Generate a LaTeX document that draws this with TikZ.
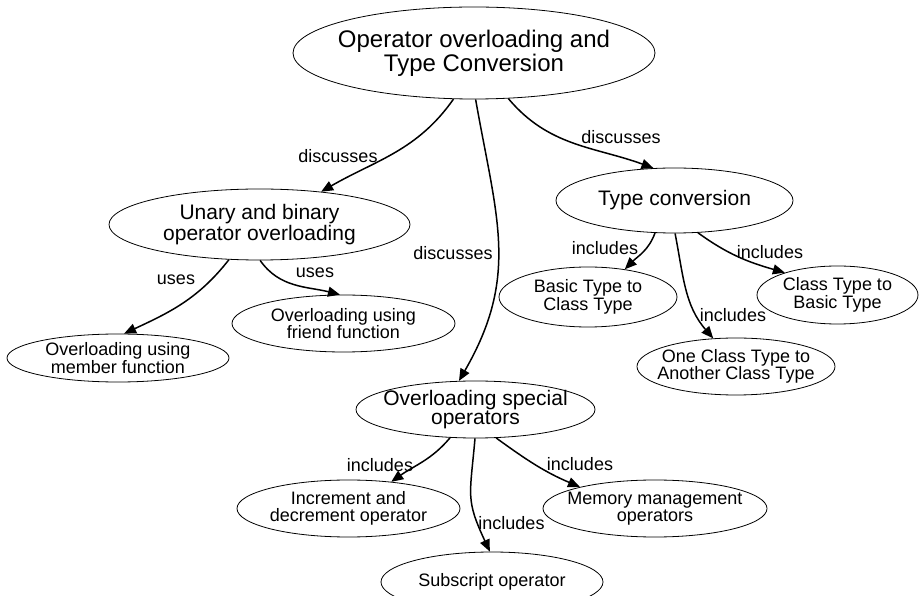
\documentclass[tikz,border=0pt]{standalone}
\usepackage{fontspec}
\setmainfont{Liberation Sans}
\usetikzlibrary{shapes.geometric,arrows.meta}
\begin{document}
\begin{tikzpicture}[x=1pt,y=1pt,
  concept/.style={ellipse, draw=black, line width=0.8pt, fill=white, inner sep=-150pt, align=center, text=black},
  big/.style={concept, font=\fontsize{24}{24}\selectfont},
  mid/.style={concept, font=\fontsize{21}{19.5}\selectfont},
  leaf/.style={concept, font=\fontsize{18}{17.5}\selectfont},
  lbl/.style={inner sep=0pt, font=\fontsize{18}{18}\selectfont, text=black},
  link/.style={-{Triangle[length=12pt,width=10pt]}, line width=1.5pt, draw=black},
]
\fill[white] (0,0) rectangle (919,595);
\useasboundingbox (0,0) rectangle (919,595);

% concepts
\node[big, minimum width=362pt, minimum height=92pt] (title) at (474,542) {Operator overloading and\\Type Conversion};
\node[mid, minimum width=301pt, minimum height=71pt] (unary) at (259.5,370.5) {Unary and binary\\operator overloading};
\node[mid, minimum width=237pt, minimum height=65pt] (tconv) at (674.5,394.5) {Type conversion};
\node[mid, minimum width=239pt, minimum height=57pt] (special) at (475.5,185.5) {Overloading special\\operators};
\node[leaf, minimum width=222pt, minimum height=48pt] (member) at (118,237) {Overloading using\\member function};
\node[leaf, minimum width=223pt, minimum height=57pt] (friend) at (343.5,271.5) {Overloading using\\friend function};
\node[leaf, minimum width=178pt, minimum height=60pt] (b2c) at (588,298) {Basic Type to\\Class Type};
\node[leaf, minimum width=161pt, minimum height=58pt] (c2b) at (837.5,300) {Class Type to\\Basic Type};
\node[leaf, minimum width=198pt, minimum height=57pt] (c2c) at (736,228.5) {One Class Type to\\Another Class Type};
\node[leaf, minimum width=223pt, minimum height=57pt] (incdec) at (348.5,86.5) {Increment and\\decrement operator};
\node[leaf, minimum width=224pt, minimum height=57pt] (memory) at (655,86.5) {Memory management\\operators};
\node[leaf, minimum width=222pt, minimum height=60pt] (subscript) at (492,13) {Subscript operator};

% links
\draw[link] (title.-114) to[out=-125,in=30] (unary.28);
\draw[link] (title.-88) to[out=-80,in=60,looseness=1.1] (special.120);
\draw[link] (title.-53) to[out=-50,in=160] (tconv.123);
\draw[link] (unary.-131) to[out=-128,in=25] (member.76);
\draw[link] (unary.-89) to[out=-55,in=166] (friend.97);
\draw[link] (tconv.-121) to[out=-110,in=45] (b2c.37);
\draw[link] (tconv.-54) to[out=-36,in=164] (c2b.157);
\draw[link] (tconv.-89) to[out=-79,in=131] (c2c.129);
\draw[link] (special.-132) to[out=-130,in=35] (incdec.32);
\draw[link] (special.-91) to[out=-95,in=115,looseness=1.3] (subscript.94);
\draw[link] (special.-54) to[out=-36,in=157] (memory.164);

% link labels
\node[lbl] (l1) at (338,439) {discusses};
\node[lbl] (l2) at (453,342) {discusses};
\node[lbl] (l3) at (621,458) {discusses};
\node[lbl] (l4) at (176,315) {uses};
\node[lbl] (l5) at (315,322) {uses};
\node[lbl] (l6) at (605,347) {includes};
\node[lbl] (l7) at (770,343) {includes};
\node[lbl] (l8) at (733,280) {includes};
\node[lbl] (l9) at (380,130) {includes};
\node[lbl] (l10) at (511.5,72) {includes};
\node[lbl] (l11) at (580,131) {includes};
\end{tikzpicture}
\end{document}
